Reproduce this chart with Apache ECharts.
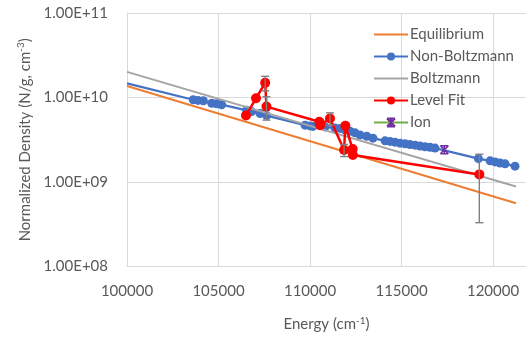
<!DOCTYPE html>
<html><head><meta charset="utf-8">
<script src="https://cdn.jsdelivr.net/npm/echarts@6/dist/echarts.min.js"></script>
<style>html,body{margin:0;padding:0;background:#fff}#c{width:526px;height:337px}</style>
</head><body><div id="c"></div>
<script>
const xTicks = [100000, 105000, 110000, 115000, 120000];
const yTickLabels = ['1.00E+08', '1.00E+09', '1.00E+10', '1.00E+11'];

const eqE = [100000, 121250];
const eqV = [1.37e10, 5.6e8];

const boltzE = [100000, 121250];
const boltzV = [2.01e10, 8.84e8];

const nbE = [100000, 103620, 103880, 104170, 104630, 104900, 105170, 106540, 106810, 107270, 107630,
  109730, 110000, 110160, 110820, 111360, 111640, 111910, 112190, 112460, 112730, 113100, 113440,
  114100, 114370, 114640, 114920, 115190, 115460, 115740, 116010, 116280, 116560, 116830,
  119200, 119840, 120110, 120380, 120660, 121200];
const nbV = [1.47e10, 9.4e9, 9.23e9, 9.15e9, 8.55e9, 8.44e9, 8.22e9, 7.05e9, 6.81e9, 6.45e9, 6.11e9,
  4.71e9, 4.61e9, 4.55e9, 4.49e9, 4.37e9, 4.31e9, 4.14e9, 3.98e9, 3.82e9, 3.60e9, 3.48e9, 3.30e9,
  3.07e9, 3.02e9, 2.96e9, 2.88e9, 2.84e9, 2.77e9, 2.73e9, 2.66e9, 2.61e9, 2.57e9, 2.52e9,
  1.89e9, 1.78e9, 1.73e9, 1.68e9, 1.64e9, 1.54e9];

const lfE = [106500, 107050, 107550, 107620, 110510, 110550, 111090, 111860, 111930, 112330, 112340, 119250];
const lfV = [6.11e9, 9.8e9, 1.49e10, 7.8e9, 5.16e9, 4.71e9, 5.64e9, 2.39e9, 4.64e9, 2.45e9, 2.09e9, 1.23e9];
const lfErr = [0, 0, 2.9e9, 2.4e9, 0, 0, 0.94e9, 0.39e9, 0, 0, 0, 0.9e9];

const ionE = [117340];
const ionV = [2.41e9];

const zip = (a, b) => a.map((v, i) => [v, b[i]]);
const font = 'Lato';
const txt = '#595959';
const grid = '#D9D9D9';

const chart = echarts.init(document.getElementById('c'), null, {renderer: 'canvas'});
const nbData = zip(nbE, nbV).map((p, i) => i === 0 ? {value: p, symbol: 'none'} : p);
const errData = lfE.map((e, i) => [e, lfV[i], lfErr[i]]).filter(d => d[2] > 0);

chart.setOption({
  animation: false,
  textStyle: {fontFamily: font},
  grid: {left: 127, right: 0, top: 13, bottom: 67},
  legend: {
    orient: 'vertical', left: 368, top: 22, itemWidth: 34, itemHeight: 10, itemGap: 7,
    textStyle: {fontFamily: font, fontSize: 15, color: txt, padding: [0, 0, 0, -3]},
    data: [
      {name: 'Equilibrium', itemStyle: {opacity: 0}},
      'Non-Boltzmann',
      {name: 'Boltzmann', itemStyle: {opacity: 0}},
      'Level Fit',
      'Ion'
    ]
  },
  xAxis: {
    type: 'value', min: 100000, max: 121800, interval: 5000,
    name: 'Energy (cm{s|-1})', nameLocation: 'middle', nameGap: 49,
    nameTextStyle: {fontFamily: font, fontSize: 15, color: txt,
      rich: {s: {fontFamily: font, fontSize: 10, color: txt, padding: [0, 0, 8, 0]}}},
    axisLine: {show: true, lineStyle: {color: grid}},
    axisTick: {show: false},
    axisLabel: {fontFamily: font, fontSize: 15, color: txt, margin: 17, showMaxLabel: false,
      formatter: v => xTicks.includes(v) ? String(v) : ''},
    splitLine: {show: true, lineStyle: {color: grid, width: 1}}
  },
  yAxis: {
    type: 'log', logBase: 10, min: 1e8, max: 1e11,
    name: 'Normalized Density (N/g, cm{s|-3})', nameLocation: 'middle', nameRotate: 90, nameGap: 92,
    nameTextStyle: {fontFamily: font, fontSize: 15, color: txt,
      rich: {s: {fontFamily: font, fontSize: 10, color: txt, padding: [0, 0, 8, 0]}}},
    axisLine: {show: true, lineStyle: {color: grid}},
    axisTick: {show: false},
    axisLabel: {fontFamily: font, fontSize: 15, color: txt, margin: 19,
      formatter: v => yTickLabels[Math.round(Math.log10(v)) - 8] || ''},
    splitLine: {show: true, lineStyle: {color: grid, width: 1}}
  },
  series: [
    {name: 'Equilibrium', type: 'line', data: zip(eqE, eqV), symbol: 'none',
      lineStyle: {color: '#ED7D31', width: 2}, itemStyle: {color: '#ED7D31'}, z: 2},
    {name: 'Non-Boltzmann', type: 'line', data: nbData, symbol: 'circle', symbolSize: 9,
      lineStyle: {color: '#4472C4', width: 2.2}, itemStyle: {color: '#4472C4'}, z: 3},
    {name: 'Boltzmann', type: 'line', data: zip(boltzE, boltzV), symbol: 'none',
      lineStyle: {color: '#A5A5A5', width: 2}, itemStyle: {color: '#A5A5A5'}, z: 4},
    {name: 'Level Fit', type: 'line', data: zip(lfE, lfV), symbol: 'circle', symbolSize: 10,
      lineStyle: {color: '#FF0000', width: 2.5}, itemStyle: {color: '#FF0000'}, z: 5},
    {name: 'Ion', type: 'line', data: zip(ionE, ionV), symbol: 'path://M0,0L10,10M10,0L0,10M5,0L5,10M0,0L10,0M0,10L10,10',
      symbolSize: 8, lineStyle: {color: '#70AD47', width: 2.5},
      itemStyle: {color: 'rgba(0,0,0,0)', borderColor: '#7030A0', borderWidth: 1.6}, z: 6},
    {name: 'errbars', type: 'custom', data: errData, z: 7, silent: true,
      renderItem: (params, api) => {
        const e = api.value(0), v = api.value(1), d = api.value(2);
        const top = api.coord([e, v + d]);
        const bot = api.coord([e, Math.max(v - d, 1e8)]);
        const w = 4;
        const st = {stroke: '#7F7F7F', lineWidth: 1.4};
        return {type: 'group', children: [
          {type: 'line', shape: {x1: top[0], y1: top[1], x2: bot[0], y2: bot[1]}, style: st},
          {type: 'line', shape: {x1: top[0] - w, y1: top[1], x2: top[0] + w, y2: top[1]}, style: st},
          {type: 'line', shape: {x1: bot[0] - w, y1: bot[1], x2: bot[0] + w, y2: bot[1]}, style: st}
        ]};
      }}
  ]
});
</script></body></html>
